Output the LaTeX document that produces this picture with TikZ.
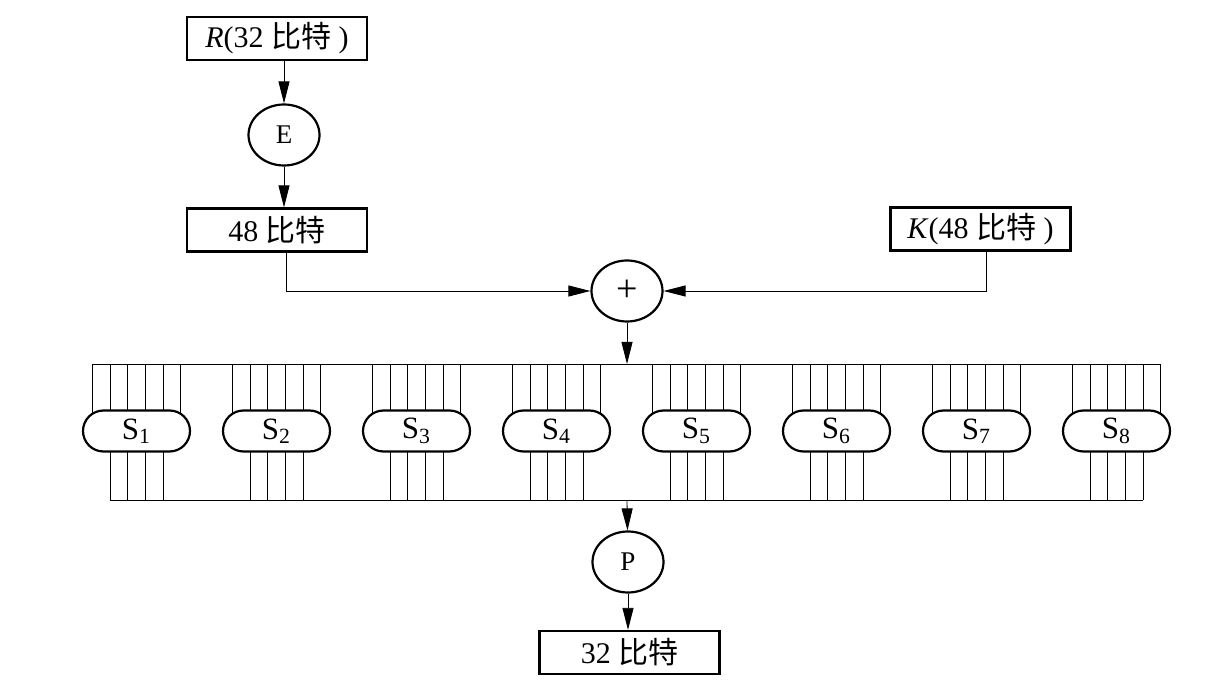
\documentclass[tikz,border=0pt]{standalone}
\usepackage{fontspec}
\setmainfont{Liberation Serif}
\newfontfamily\cjk{Noto Sans CJK SC}
\usetikzlibrary{shapes.geometric,shapes.misc,arrows.meta,backgrounds,calc,positioning}
\def\pitch{140}
\def\wire{17.7}
\def\topbus{364}
\def\botbus{500}

\begin{document}
\begin{tikzpicture}[x=0.5pt, y=-0.5pt, line width=1.1pt,
  box/.style={draw, minimum width=90pt, minimum height=21.5pt, inner sep=0pt, font=\fontsize{15}{18}\selectfont},
  op/.style={draw, ellipse, minimum width=35.5pt, minimum height=30.5pt, inner sep=0pt, font=\fontsize{13.5}{16}\selectfont},
  sbox/.style={draw, fill=white, rounded rectangle, minimum width=53.5pt, minimum height=20.5pt, inner sep=0pt, font=\fontsize{15.5}{18}\selectfont},
  arr/.style={-{Triangle[length=11pt,width=5.5pt]}}]
\useasboundingbox (0,0) rectangle (1221,683);

\node[box] (r) at (277,38.5) {\textit{R}(32 {\cjk 比特} )};
\node[op] (e) at (284,135) {E};
\node[box] (b48) at (277,230) {48 {\cjk 比特}};
\node[box] (k) at (980.5,229) {\textit{K}(48 {\cjk 比特} )};
\node[op, font=\fontsize{19}{20}\selectfont] (xor) at (627,291) {+};
\node[op] (p) at (628,562) {P};
\node[box] (b32) at (629.5,652.5) {32 {\cjk 比特}};

\coordinate (top) at (627,\topbus);
\coordinate (bot) at (627,\botbus);

% S-boxes
\foreach \i in {1,...,8}
  \node[sbox] (s\i) at ({136.5+(\i-1)*\pitch},431) {S\textsubscript{\i}};

\begin{pgfonlayer}{background}
\foreach \i in {1,...,8} {
  \foreach \d in {-2.5,-1.5,...,2.5} {
    \path (s\i.center) ++(\d*\wire,0) coordinate (w);
    \draw (w) -- (w |- top);
  }
  \foreach \d in {-1.5,-0.5,...,1.5} {
    \path (s\i.center) ++(\d*\wire,0) coordinate (w);
    \draw (w) -- (w |- bot);
  }
}
\end{pgfonlayer}

\path (s1.center) ++(-2.5*\wire,0) coordinate (tl) ++(\wire,0) coordinate (bl);
\path (s8.center) ++(2.5*\wire,0) coordinate (tr) ++(-\wire,0) coordinate (br);
\draw (tl |- top) -- (tr |- top);
\draw (bl |- bot) -- (br |- bot);

\draw[arr] (r.south -| e) -- (e);
\draw[arr] (e) -- (e |- b48.north);
\draw[arr] ([xshift=1pt]e |- b48.south) |- (xor);
\draw[arr] ([xshift=2.75pt]k.south) |- (xor);
\draw[arr] (xor) -- (top);
\draw[arr] (bot) -- (p);
\draw[arr] (p) -- (p |- b32.north);
\end{tikzpicture}
\end{document}
